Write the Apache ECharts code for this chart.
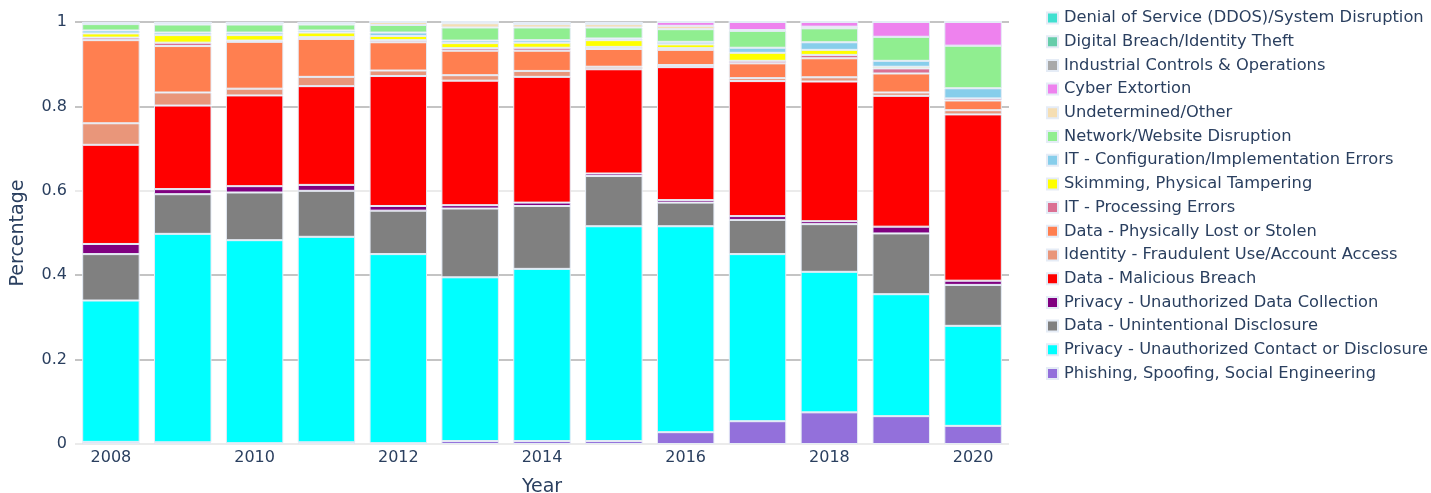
<!DOCTYPE html>
<html>
<head>
<meta charset="utf-8">
<script src="https://cdn.jsdelivr.net/npm/echarts@6/dist/echarts.min.js"></script>
<style>
  html, body { margin: 0; padding: 0; background: #fff; }
  #chart { width: 1431px; height: 493px; }
</style>
</head>
<body>
<div id="chart"></div>
<script>
// years on the x axis
const years = ['2008', '2009', '2010', '2011', '2012', '2013', '2014', '2015', '2016', '2017', '2018', '2019', '2020'];

// share of each breach type per year (stacked from the bottom)
const phishing      = [0.005, 0.004, 0.002, 0.004, 0.002, 0.007, 0.007, 0.007, 0.028, 0.054, 0.075, 0.066, 0.043];
const privContact   = [0.335, 0.494, 0.481, 0.487, 0.448, 0.388, 0.408, 0.509, 0.488, 0.396, 0.333, 0.289, 0.237];
const unintentional = [0.110, 0.094, 0.113, 0.109, 0.103, 0.163, 0.149, 0.119, 0.056, 0.081, 0.113, 0.144, 0.097];
const privCollect   = [0.024, 0.012, 0.015, 0.014, 0.011, 0.008, 0.008, 0.006, 0.006, 0.009, 0.007, 0.016, 0.010];
const malicious     = [0.235, 0.198, 0.215, 0.234, 0.308, 0.295, 0.298, 0.247, 0.315, 0.320, 0.331, 0.310, 0.394];
const identity      = [0.051, 0.031, 0.016, 0.022, 0.013, 0.013, 0.014, 0.006, 0.005, 0.007, 0.010, 0.008, 0.010];
const lostStolen    = [0.197, 0.110, 0.111, 0.090, 0.067, 0.058, 0.048, 0.042, 0.036, 0.035, 0.045, 0.045, 0.023];
const itProcessing  = [0.006, 0.008, 0.003, 0.004, 0.005, 0.006, 0.007, 0.005, 0.004, 0.006, 0.008, 0.012, 0.005];
const skimming      = [0.010, 0.018, 0.013, 0.011, 0.010, 0.012, 0.012, 0.016, 0.009, 0.019, 0.012, 0.004, 0.000];
const itConfig      = [0.007, 0.006, 0.006, 0.005, 0.008, 0.006, 0.006, 0.004, 0.006, 0.012, 0.018, 0.014, 0.024];
const network       = [0.015, 0.019, 0.019, 0.014, 0.018, 0.031, 0.030, 0.026, 0.030, 0.040, 0.033, 0.057, 0.101];
const undetermined  = [0.003, 0.004, 0.004, 0.004, 0.007, 0.010, 0.008, 0.008, 0.008, 0.002, 0.004, 0.000, 0.000];
const extortion     = [0.000, 0.000, 0.000, 0.000, 0.000, 0.003, 0.002, 0.003, 0.009, 0.019, 0.011, 0.035, 0.056];
const industrial    = [0, 0, 0, 0, 0, 0, 0, 0, 0, 0, 0, 0, 0];
const digital       = [0, 0, 0, 0, 0, 0, 0, 0, 0, 0, 0, 0, 0];
const ddos          = [0.002, 0.002, 0.002, 0.002, 0.000, 0.000, 0.003, 0.002, 0.000, 0.000, 0.000, 0.000, 0.000];

// bottom to top
const seriesList = [
  {name: 'Phishing, Spoofing, Social Engineering', color: '#9370db', data: phishing},
  {name: 'Privacy - Unauthorized Contact or Disclosure', color: '#00ffff', data: privContact},
  {name: 'Data - Unintentional Disclosure', color: '#808080', data: unintentional},
  {name: 'Privacy - Unauthorized Data Collection', color: '#800080', data: privCollect},
  {name: 'Data - Malicious Breach', color: '#ff0000', data: malicious},
  {name: 'Identity - Fraudulent Use/Account Access', color: '#e9967a', data: identity},
  {name: 'Data - Physically Lost or Stolen', color: '#ff7f50', data: lostStolen},
  {name: 'IT - Processing Errors', color: '#db7093', data: itProcessing},
  {name: 'Skimming, Physical Tampering', color: '#ffff00', data: skimming},
  {name: 'IT - Configuration/Implementation Errors', color: '#87ceeb', data: itConfig},
  {name: 'Network/Website Disruption', color: '#90ee90', data: network},
  {name: 'Undetermined/Other', color: '#f5deb3', data: undetermined},
  {name: 'Cyber Extortion', color: '#ee82ee', data: extortion},
  {name: 'Industrial Controls & Operations', color: '#a9a9a9', data: industrial},
  {name: 'Digital Breach/Identity Theft', color: '#66cdaa', data: digital},
  {name: 'Denial of Service (DDOS)/System Disruption', color: '#40e0d0', data: ddos}
];

const textColor = '#2a3f5f';
const font = 'DejaVu Sans';

const chart = echarts.init(document.getElementById('chart'));
chart.setOption({
  animation: false,
  textStyle: {fontFamily: font},
  grid: {left: 75, right: 422, top: 22, bottom: 49, containLabel: false, outerBoundsMode: 'none'},
  legend: {
    orient: 'vertical',
    left: 1041,
    top: 4,
    icon: 'rect',
    itemWidth: 11,
    itemHeight: 11,
    itemGap: 5.7,
    data: seriesList.map(s => s.name).reverse(),
    textStyle: {color: textColor, fontSize: 16.3, lineHeight: 18, fontFamily: font, padding: [0, 0, 0, 1]}
  },
  xAxis: {
    type: 'category',
    data: years,
    name: 'Year',
    nameLocation: 'middle',
    nameGap: 34,
    nameTextStyle: {color: textColor, fontSize: 19, fontFamily: font},
    axisLine: {show: false},
    axisTick: {show: false},
    axisLabel: {color: textColor, fontSize: 16, interval: 1, margin: 6, fontFamily: font}
  },
  yAxis: {
    type: 'value',
    min: 0,
    max: 1,
    interval: 0.2,
    name: 'Percentage',
    nameLocation: 'middle',
    nameGap: 47,
    nameTextStyle: {color: textColor, fontSize: 19, fontFamily: font},
    axisLabel: {color: textColor, fontSize: 16, margin: 8, fontFamily: font},
    splitLine: {lineStyle: {color: ['#ebebeb', '#c4c4c4', '#c4c4c4', '#ebebeb', '#c4c4c4', '#c4c4c4'], width: 2}}
  },
  series: seriesList.map(s => ({
    name: s.name,
    type: 'bar',
    stack: 'total',
    barCategoryGap: '20%',
    data: s.data,
    itemStyle: {color: s.color, borderColor: '#e5ecf6', borderWidth: 1}
  }))
});
</script>
</body>
</html>
